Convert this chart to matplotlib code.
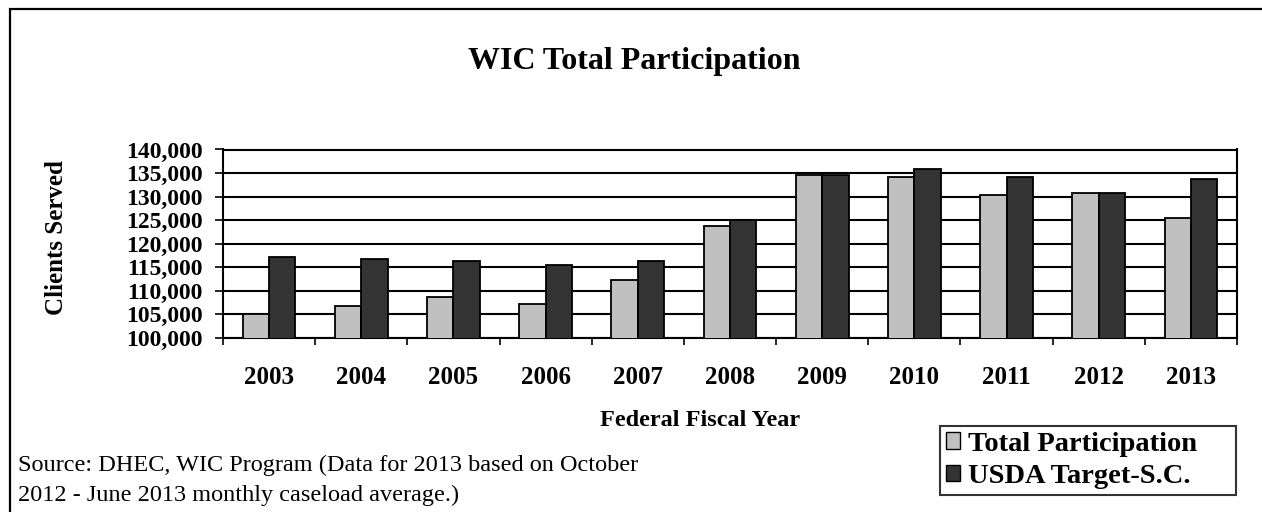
import matplotlib
matplotlib.use("Agg")
import matplotlib.pyplot as plt
import numpy as np
from matplotlib.patches import Rectangle

plt.rcParams['font.family'] = ['Liberation Serif', 'DejaVu Serif']

years = ['2003', '2004', '2005', '2006', '2007', '2008', '2009', '2010', '2011', '2012', '2013']
total_participation = [105100, 106800, 108600, 107200, 112400, 123800, 134500, 134100, 130400, 130800, 125400]
usda_target = [117100, 116700, 116300, 115400, 116300, 125000, 134600, 135800, 134100, 130800, 133700]
y_ticks = [100000, 105000, 110000, 115000, 120000, 125000, 130000, 135000, 140000]
series_names = ['Total Participation', 'USDA Target-S.C.']
light_color = '#C0C0C0'
dark_color = '#333333'

W, H = 1262, 512
fig = plt.figure(figsize=(W / 100, H / 100), dpi=100)


def fx(px):
    return px / W


def fy(py):
    return 1 - py / H


# outer frame of the figure panel
fig.patches.append(Rectangle((fx(10), fy(530)), fx(1280) - fx(10), fy(9) - fy(530),
                             transform=fig.transFigure, fill=False, edgecolor='black',
                             linewidth=1.6, clip_on=True))

left, right, top, bottom = 223, 1237, 149.5, 338
ax = fig.add_axes([fx(left), fy(bottom), fx(right) - fx(left), fy(top) - fy(bottom)])

x = np.arange(len(years))
w = 0.286
ax.bar(x - w / 2, total_participation, width=w, color=light_color, edgecolor='black',
       linewidth=1.3, zorder=3, label=series_names[0])
ax.bar(x + w / 2, usda_target, width=w, color=dark_color, edgecolor='black',
       linewidth=1.3, zorder=3, label=series_names[1])

ax.set_xlim(-0.5, len(years) - 0.5)
ax.set_ylim(y_ticks[0], y_ticks[-1])
ax.set_yticks(y_ticks)
ax.set_yticklabels([f'{v:,}' for v in y_ticks], fontsize=17, fontweight='bold')
ax.yaxis.grid(True, color='black', linewidth=1.5, zorder=0)
ax.set_axisbelow(True)

ax.set_xticks(x)
ax.set_xticklabels(years, fontsize=18, fontweight='bold')
ax.set_xticks(np.arange(-0.5, len(years), 1), minor=True)
ax.tick_params(axis='x', which='major', length=0, pad=20)
ax.tick_params(axis='x', which='minor', length=5, width=1.2, direction='out')
ax.tick_params(axis='y', length=5.8, width=1.2, direction='out', pad=9)

for s in ax.spines.values():
    s.set_linewidth(1.5)
    s.set_color('black')

fig.text(fx(634), fy(61), 'WIC Total Participation', fontsize=23, fontweight='bold',
         ha='center', va='center')
fig.text(fx(57), fy(238), 'Clients Served', fontsize=18, fontweight='bold',
         rotation=90, ha='center', va='center')
fig.text(fx(700), fy(421), 'Federal Fiscal Year', fontsize=17.5, fontweight='bold',
         ha='center', va='center')
fig.text(fx(18), fy(465), 'Source: DHEC, WIC Program (Data for 2013 based on October',
         fontsize=17.5, ha='left', va='center')
fig.text(fx(18), fy(495), '2012 - June 2013 monthly caseload average.)',
         fontsize=17.5, ha='left', va='center')

handles = [
    Rectangle((0, 0), 1, 1, facecolor=light_color, edgecolor='black', linewidth=1),
    Rectangle((0, 0), 1, 1, facecolor=dark_color, edgecolor='black', linewidth=1),
]
leg_x0, leg_x1, leg_top, leg_bottom = 940, 1236, 426, 495
leg = fig.legend(handles, series_names, loc='upper left', mode='expand',
                 bbox_to_anchor=(fx(leg_x0), fy(leg_bottom), fx(leg_x1) - fx(leg_x0),
                                 fy(leg_top) - fy(leg_bottom)),
                 bbox_transform=fig.transFigure,
                 prop={'family': ['Liberation Serif'], 'weight': 'bold', 'size': 20.5},
                 frameon=True, fancybox=False, edgecolor='black', handlelength=0.5,
                 handleheight=0.5, handletextpad=0.3, labelspacing=0.25,
                 borderpad=0.2, borderaxespad=0)
leg.get_frame().set_linewidth(1.5)

fig.savefig('out.png', dpi=100)
